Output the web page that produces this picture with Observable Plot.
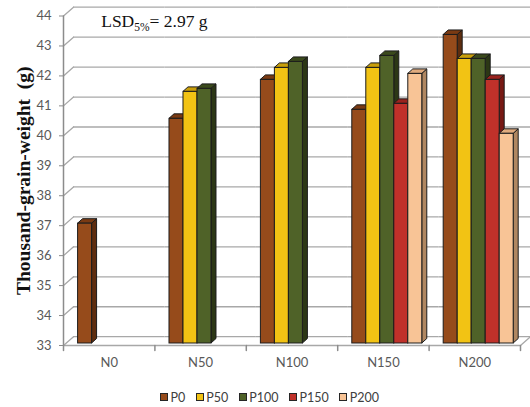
<!DOCTYPE html>
<html>
<head>
<meta charset="utf-8">
<script src="https://cdn.jsdelivr.net/npm/d3@7"></script>
<script src="https://cdn.jsdelivr.net/npm/@observablehq/plot@0.6"></script>
<style>
  html, body { margin: 0; padding: 0; background: #fff; }
  #wrap { width: 530px; height: 407px; overflow: hidden; position: relative; }
  #legend { display: flex; align-items: center; height: 20px; padding-left: 160px;
            font-family: Lato, sans-serif; font-size: 12.5px; color: #404040; }
  .item { display: flex; align-items: center; margin-right: 10.5px; }
  .sw { width: 6px; height: 6px; border: 1px solid #262626; margin-right: 2.5px; }
</style>
</head>
<body>
<div id="wrap"></div>
<script>
// ---- data ----
const nLevels = ["N0", "N50", "N100", "N150", "N200"];
const pLevels = ["P0", "P50", "P100", "P150", "P200"];
const valuesP0   = [37.0, 40.5, 41.8, 40.8, 43.3];
const valuesP50  = [null, 41.4, 42.2, 42.2, 42.5];
const valuesP100 = [null, 41.5, 42.4, 42.6, 42.5];
const valuesP150 = [null, null, null, 41.0, 41.8];
const valuesP200 = [null, null, null, 42.0, 40.0];
const yTicks = [33, 34, 35, 36, 37, 38, 39, 40, 41, 42, 43, 44];
const yDomain = [33, 44];
const yTitle = "Thousand-grain-weight  (g)";
const lsdParts = ["LSD", "5%", "= 2.97 g"];

// ---- styles ----
const frontColors = {P0: "#964B1B", P50: "#F2C314", P100: "#4F6228", P150: "#C0312A", P200: "#F8C496"};
const topColors   = {P0: "#7A3A13", P50: "#C99F0C", P100: "#3B4A1C", P150: "#9A231E", P200: "#E0AB7E"};
const sideColors  = {P0: "#5E2D0F", P50: "#9C7B08", P100: "#2C3715", P150: "#771914", P200: "#B08761"};
const gridColor = "#a8a8a8";
const axisColor = "#8c8c8c";
const M = {left: 63, right: 10, top: 15.5, bottom: 42};
const H = 387;
const depth = {dx: 5, dy: -4.5};      // bar depth (px)
const wall = {dx: 10, dy: -8.8};      // back-wall offset (px)

const series = [valuesP0, valuesP50, valuesP100, valuesP150, valuesP200];
const rows = [];
nLevels.forEach((n, i) => pLevels.forEach((p, j) => {
  const v = series[j][i];
  if (v != null) rows.push({n, p, v});
}));

const svgNS = "http://www.w3.org/2000/svg";
function face(kind) {
  return (index, scales, values, dims, ctx, next) => {
    const g = next(index, scales, values, dims, ctx);
    for (const r of [...g.querySelectorAll("rect")]) {
      const x = +r.getAttribute("x"), y = +r.getAttribute("y");
      const w = +r.getAttribute("width"), h = +r.getAttribute("height");
      const pts = kind === "side"
        ? [[x + w, y], [x + w + depth.dx, y + depth.dy], [x + w + depth.dx, y + h + depth.dy], [x + w, y + h]]
        : [[x, y], [x + w, y], [x + w + depth.dx, y + depth.dy], [x + depth.dx, y + depth.dy]];
      const poly = document.createElementNS(svgNS, "polygon");
      for (const a of [...r.attributes]) {
        if (!["x", "y", "width", "height"].includes(a.name)) poly.setAttribute(a.name, a.value);
      }
      poly.setAttribute("points", pts.map(d => d.join(",")).join(" "));
      r.replaceWith(poly);
    }
    return g;
  };
}
const lineShape = {draw(context, l) { context.moveTo(0, 0); context.lineTo(0, -l); }};
const wallLen = Math.hypot(wall.dx, wall.dy);
const wallRot = Math.atan2(wall.dx, -wall.dy) * 180 / Math.PI;

const barOpts = (fillMap, extra) => ({
  fx: "n", x: "p", y1: () => yDomain[0], y2: "v",
  fill: d => fillMap[d.p], stroke: "#1c1c1c", strokeWidth: 1, dy: -2, ...extra
});

const chart = Plot.plot({
  width: 530, height: H,
  marginLeft: M.left, marginRight: M.right, marginTop: M.top, marginBottom: M.bottom,
  style: {fontFamily: "Lato, sans-serif", fontSize: "13px", color: "#595959", background: "#fff", overflow: "visible"},
  fx: {domain: nLevels, padding: 0, round: false, label: null},
  x: {domain: pLevels, paddingInner: 0, paddingOuter: 0.764, align: 0.682, round: false, axis: null},
  y: {domain: yDomain, label: null},
  marks: [
    // back wall grid lines
    Plot.ruleY(yTicks, {y: d => d, dx: wall.dx, dy: wall.dy, stroke: gridColor, strokeWidth: 1.3}),
    // left side-wall diagonals
    Plot.vector(yTicks, {y: d => d, fx: yTicks.map(() => nLevels[0]), frameAnchor: "left", anchor: "start",
      length: wallLen, rotate: wallRot, shape: lineShape, stroke: gridColor, strokeWidth: 1.3}),
    // floor right diagonal
    Plot.vector([yDomain[0]], {y: d => d, fx: [nLevels[4]], frameAnchor: "right", anchor: "start",
      length: wallLen, rotate: wallRot, shape: lineShape, stroke: gridColor, strokeWidth: 1.3}),
    // front floor edge
    Plot.ruleY([yDomain[0]], {y: d => d, stroke: gridColor, strokeWidth: 1.3}),
    // category separators
    Plot.vector([yDomain[0]], {y: d => d, frameAnchor: "left", anchor: "start", length: 5, rotate: 180,
      shape: lineShape, stroke: axisColor}),
    Plot.vector([yDomain[0]], {y: d => d, fx: [nLevels[4]], frameAnchor: "right", anchor: "start", length: 5, rotate: 180,
      shape: lineShape, stroke: axisColor}),
    // y axis line
    Plot.vector([yDomain[0]], {y: d => d, fx: [nLevels[0]], frameAnchor: "left", anchor: "start",
      length: H - M.bottom - M.top, rotate: 0, shape: lineShape, stroke: axisColor}),
    Plot.axisY(yTicks, {anchor: "left", tickSize: 4, tickPadding: 8, stroke: axisColor, fill: "#595959", fontSize: 13, label: null}),
    Plot.axisFx({anchor: "bottom", tickSize: 0, tickPadding: 12, fill: "#595959", fontSize: 13, label: null}),
    // 3D bars: side faces, top faces, front faces
    Plot.barY(rows, barOpts(sideColors, {render: face("side")})),
    Plot.barY(rows, barOpts(topColors, {render: face("top")})),
    Plot.barY(rows, barOpts(frontColors, {})),
    // LSD annotation
    Plot.text([lsdParts.join("")], {fx: [nLevels[0]], frameAnchor: "top-left", textAnchor: "start", lineAnchor: "bottom",
      dx: 37.7, dy: 11.2, fontFamily: "'Liberation Serif', 'Times New Roman', serif", fontSize: 17.5, fill: "#111",
      render(index, scales, values, dims, ctx, next) {
        const g = next(index, scales, values, dims, ctx);
        const t = g.querySelector("text");
        if (t) {
          t.textContent = "";
          const a = document.createElementNS(svgNS, "tspan"); a.textContent = lsdParts[0];
          const b = document.createElementNS(svgNS, "tspan"); b.textContent = lsdParts[1];
          b.setAttribute("font-size", "11.5"); b.setAttribute("dy", "3.5");
          const c = document.createElementNS(svgNS, "tspan"); c.textContent = lsdParts[2];
          c.setAttribute("dy", "-3.5");
          t.append(a, b, c);
        }
        return g;
      }}),
    // y title
    Plot.text([yTitle], {fx: [nLevels[0]], frameAnchor: "left", rotate: -90, textAnchor: "middle", lineAnchor: "bottom",
      dx: -34, fontFamily: "'Liberation Serif', 'Times New Roman', serif", fontWeight: "bold", fontSize: 19.5, fill: "#111"})
  ]
});

const wrap = document.getElementById("wrap");
wrap.append(chart);
const legend = document.createElement("div");
legend.id = "legend";
for (const p of pLevels) {
  const it = document.createElement("div"); it.className = "item";
  const sw = document.createElement("div"); sw.className = "sw"; sw.style.background = frontColors[p];
  const tx = document.createElement("span"); tx.textContent = p;
  it.append(sw, tx); legend.append(it);
}
wrap.append(legend);
</script>
</body>
</html>
